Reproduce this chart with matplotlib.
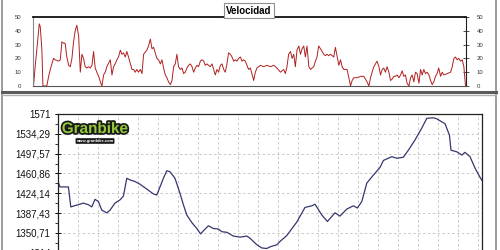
import matplotlib
matplotlib.use("Agg")
import matplotlib.pyplot as plt
from matplotlib.ticker import FixedLocator, AutoMinorLocator, MultipleLocator
import matplotlib.patheffects as pe
from matplotlib.lines import Line2D

plt.rcParams['font.family'] = ['Liberation Sans', 'DejaVu Sans']

# ---- speed profile (km, km/h) ----
speed_km = [0.05, 0.13, 0.21, 0.33, 0.38, 0.46, 0.51, 0.70, 0.79, 0.87, 1.03, 1.11, 1.28, 1.36, 1.44, 1.52,
            1.60, 1.68, 1.77, 1.85, 1.93, 2.01, 2.09, 2.17, 2.26, 2.34, 2.42, 2.50, 2.58, 2.66, 2.74, 2.83,
            2.91, 2.99, 3.07, 3.15, 3.24, 3.32, 3.40, 3.48, 3.56, 3.64, 3.81, 3.89, 3.97, 4.05, 4.13, 4.21,
            4.30, 4.38, 4.46, 4.54, 4.62, 4.70, 4.87, 4.95, 5.03, 5.11, 5.19, 5.28, 5.36, 5.44, 5.60, 5.68,
            5.77, 5.85, 5.93, 6.01, 6.09, 6.17, 6.26, 6.34, 6.42, 6.50, 6.58, 6.66, 6.75, 6.83, 6.91, 6.99,
            7.07, 7.15, 7.24, 7.32, 7.40, 7.48, 7.56, 7.64, 7.73, 7.81, 7.89, 7.97, 8.05, 8.13, 8.22, 8.30,
            8.38, 8.46, 8.54, 8.62, 8.71, 8.79, 8.87, 8.95, 9.03, 9.11, 9.20, 9.28, 9.36, 9.44, 9.52, 9.60,
            9.69, 9.77, 9.85, 9.93, 10.01, 10.09, 10.18, 10.26, 10.34, 10.42, 10.50, 10.58, 10.67, 10.83,
            10.91, 10.99, 11.16, 11.32, 11.48, 11.65, 11.81, 11.89, 11.97, 12.14, 12.30, 12.38, 12.46, 12.54,
            12.63, 12.71, 12.79, 12.87, 12.95, 13.04, 13.12, 13.20, 13.28, 13.36, 13.44, 13.53, 13.61, 13.69,
            13.77, 13.85, 13.93, 14.01, 14.10, 14.18, 14.26, 14.34, 14.42, 14.50, 14.59, 14.67, 14.75, 14.83,
            14.91, 15.00, 15.08, 15.16, 15.24, 15.32, 15.40, 15.49, 15.57, 15.65, 15.73, 15.89, 16.06, 16.22,
            16.38, 16.47, 16.55, 16.63, 16.71, 16.79, 16.87, 16.96, 17.04, 17.12, 17.20, 17.28, 17.36, 17.45,
            17.53, 17.61, 17.69, 17.77, 17.85, 17.94, 18.02, 18.10, 18.18, 18.26, 18.34, 18.43, 18.51, 18.59,
            18.67, 18.75, 18.83, 18.92, 19.00, 19.08, 19.16, 19.24, 19.32, 19.41, 19.49, 19.57, 19.65, 19.73,
            19.81, 19.89, 19.98, 20.06, 20.14, 20.30, 20.47, 20.55, 20.63, 20.71, 20.79, 20.87, 20.96, 21.04,
            21.12, 21.20]
speed_kmh = [0, 14, 26, 45, 43, 26, 0, 0, 7, 12, 20, 19, 18, 19, 32, 31,
             31, 21, 15, 14, 20, 32, 40, 44, 36, 10, 23, 20, 14, 13, 14, 13,
             15, 25, 13, 10, 7, 3, 0, 8, 10, 14, 19, 8, 14, 16, 19, 21,
             26, 23, 24, 21, 25, 21, 12, 12, 10, 12, 10, 12, 9, 23, 26, 29,
             34, 27, 28, 24, 20, 19, 16, 19, 13, 8, 6, 3, 1, 4, 14, 16,
             23, 14, 12, 13, 9, 10, 13, 15, 16, 14, 10, 13, 15, 14, 18, 19,
             18, 15, 16, 15, 14, 16, 12, 8, 12, 10, 15, 16, 12, 10, 16, 24,
             23, 21, 18, 19, 18, 20, 21, 18, 19, 18, 15, 12, 13, 4,
             10, 13, 15, 14, 15, 14, 15, 14, 13, 10, 12, 9, 14, 23,
             25, 20, 23, 14, 26, 29, 23, 27, 29, 21, 29, 14, 12, 13,
             14, 18, 21, 29, 27, 25, 23, 22, 23, 22, 23, 22, 21, 28,
             22, 15, 19, 14, 12, 12, 12, 6, 0, 4, 6, 6, 7, 7,
             3, 0, 6, 10, 14, 16, 18, 14, 8, 12, 13, 10, 14, 10,
             4, 5, 7, 7, 8, 6, 8, 11, 7, 8, 2, 0, 6, 8,
             3, 10, 9, 2, 12, 8, 12, 9, 10, 8, 4, 1, 3, 7,
             9, 13, 7, 10, 8, 9, 10, 14, 20, 21, 19, 20, 18, 19,
             14, 0]

# ---- elevation profile (km, m) ----
elev_km = [0.0, 0.1, 0.52, 0.64, 1.27, 1.52, 1.69, 1.85, 2.02, 2.19, 2.44, 2.6, 2.85, 3.1, 3.27, 3.44,
           3.6, 3.85, 4.1, 4.44, 4.77, 4.94, 5.1, 5.27, 5.44, 5.6, 5.85, 6.1, 6.27, 6.44, 6.69, 6.94,
           7.13, 7.3, 7.52, 7.77, 8.02, 8.2, 8.44, 8.77, 9.1, 9.44, 9.6, 9.94, 10.19, 10.44, 10.6, 10.94,
           11.1, 11.44, 11.94, 12.35, 12.69, 12.85, 13.19, 13.47, 13.85, 14.1, 14.44, 14.77, 14.97, 15.19,
           15.44, 15.77, 16.1, 16.27, 16.69, 16.94, 17.27, 17.52, 17.85, 18.19, 18.44, 18.77, 18.94, 19.35,
           19.57, 19.65, 19.94, 20.19, 20.35, 20.6, 20.85, 21.1, 21.2]
elev_m = [1446, 1436, 1436, 1399, 1406, 1403, 1399, 1413, 1409, 1393, 1388, 1393, 1406, 1412, 1419, 1452,
          1449, 1446, 1441, 1432, 1423, 1421, 1436, 1452, 1466, 1464, 1452, 1424, 1403, 1384, 1370, 1359,
          1349, 1356, 1364, 1359, 1358, 1353, 1352, 1345, 1343, 1345, 1341, 1329, 1323, 1322, 1325, 1329,
          1335, 1346, 1371, 1398, 1401, 1404, 1384, 1372, 1388, 1382, 1395, 1401, 1397, 1409,
          1443, 1458, 1472, 1485, 1492, 1489, 1491, 1504, 1523, 1545, 1563, 1564, 1562, 1553,
          1532, 1504, 1501, 1495, 1500, 1492, 1471, 1454, 1448]

elev_ticks = [1571, 1534.29, 1497.57, 1460.86, 1424.14, 1387.43, 1350.71, 1314]
elev_labels = ["1571", "1534,29", "1497,57", "1460,86", "1424,14", "1387,43", "1350,71", "1314"]
speed_ticks = [0, 10, 20, 30, 40, 50]

W, H = 500, 250
fig = plt.figure(figsize=(5, 2.5), dpi=100)
fig.patch.set_facecolor('white')

def fx(px):
    return px / W

def fy(py):
    return 1 - py / H

# ---- frame lines ----
for x in (2, 496):
    fig.add_artist(Line2D([fx(x), fx(x)], [0, 1], color='#8a8a8a', lw=1.2))
fig.add_artist(Line2D([fx(2), fx(496)], [fy(91.5), fy(91.5)], color='#5a5a5a', lw=2.2))
fig.add_artist(Line2D([fx(2), fx(496)], [fy(94.5), fy(94.5)], color='#b0b0b0', lw=1.0))

# ---- speed axes ----
ax1 = fig.add_axes([fx(32.5), fy(86), fx(465.5) - fx(32.5), fy(17) - fy(86)])
ax1.plot(speed_km, speed_kmh, color='#b02020', lw=0.7)
ax1.set_xlim(0, 21.2)
ax1.set_ylim(0, 50)
ax1.set_xticks([])
ax1.yaxis.set_major_locator(FixedLocator(speed_ticks))
ax1.tick_params(axis='y', which='both', left=True, right=True, labelleft=True, labelright=True,
                direction='inout', length=4, width=0.6, labelsize=4.3, pad=6, colors='#333333')
ax1.tick_params(axis='y', which='major', left=False)
for s in ax1.spines.values():
    s.set_linewidth(0.8)
ax1.spines['top'].set_color('#111111')
ax1.spines['top'].set_linewidth(1.3)
ax1.spines['left'].set_color('#888888')
ax1.spines['bottom'].set_color('#555555')
ax1.spines['right'].set_color('#222222')
ax1.patch.set_alpha(0)

# title box
fig.text(fx(249), fy(10.5), "Velocidad", ha='center', va='center', fontsize=7, fontweight='bold',
         color='black',
         bbox=dict(boxstyle='square,pad=0.25', facecolor='white', edgecolor='#909090', lw=0.8))

# ---- elevation axes ----
ymin = 1571 - 8 * 36.7143
px_per = 19.83
h_px = 8 * px_per
ax2 = fig.add_axes([fx(58), fy(114 + h_px), fx(482) - fx(58), h_px / H])
ax2.plot(elev_km, elev_m, color='#363670', lw=0.9)
ax2.set_xlim(0, 21.2)
ax2.set_ylim(ymin, 1571)
ax2.xaxis.set_major_locator(MultipleLocator(1))
ax2.tick_params(axis='x', which='both', bottom=False, labelbottom=False)
ax2.yaxis.set_major_locator(FixedLocator(elev_ticks))
ax2.set_yticklabels(elev_labels)
ax2.yaxis.set_minor_locator(AutoMinorLocator(2))
ax2.tick_params(axis='y', which='major', direction='inout', length=5, width=0.7, labelsize=7, pad=3,
                colors='#111111')
ax2.tick_params(axis='y', which='minor', direction='out', length=2.5, width=0.6, colors='#111111')
ax2.grid(True, which='major', color='#c8c8c8', linestyle=(0, (2.5, 2.5)), lw=0.7)
for s in ax2.spines.values():
    s.set_linewidth(0.9)
    s.set_color('#222222')
ax2.set_axisbelow(True)

# logo
fig.text(fx(95), fy(129), "Granbike", ha='center', va='center', fontsize=11, fontweight='bold',
         color='#95c83a', path_effects=[pe.withStroke(linewidth=2.5, foreground='#1a1a1a')])
fig.text(fx(95), fy(141), "www.granbike.com", ha='center', va='center', fontsize=3, color='white',
         fontweight='bold',
         bbox=dict(boxstyle='round,pad=0.2', facecolor='#1a1a1a', edgecolor='none'))

fig.savefig("out.png", dpi=100)
